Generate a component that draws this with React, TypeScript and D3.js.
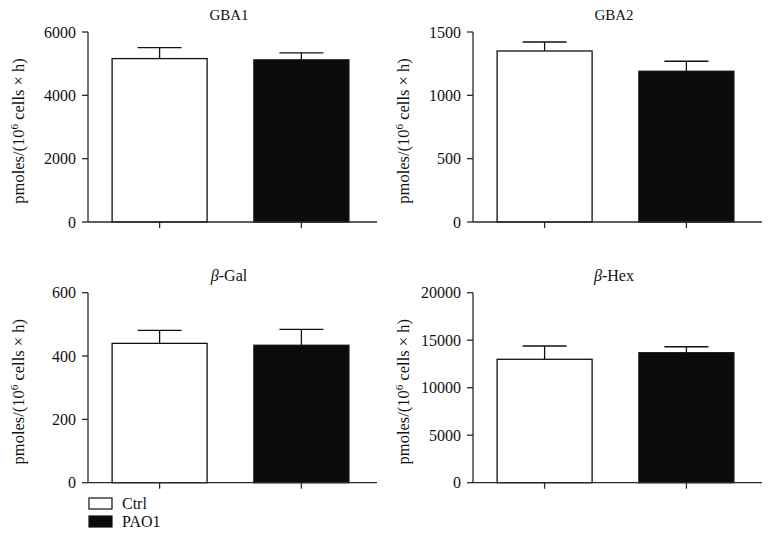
import * as d3 from "d3";

const groups = ["Ctrl", "PAO1"];
const titles = ["GBA1", "GBA2", "β-Gal", "β-Hex"];
const gba1Means = [5160, 5120];
const gba1Errs = [345, 220];
const gba2Means = [1350, 1190];
const gba2Errs = [71, 79];
const galMeans = [440, 434];
const galErrs = [41, 50];
const hexMeans = [12990, 13680];
const hexErrs = [1400, 630];
const yMaxes = [6000, 1500, 600, 20000];
const tickSteps = [2000, 500, 200, 5000];
const fills = ["#ffffff", "#0b0b0b"];

const allMeans = [gba1Means, gba2Means, galMeans, hexMeans];
const allErrs = [gba1Errs, gba2Errs, galErrs, hexErrs];

const font = "'Liberation Serif', 'Times New Roman', serif";
const axisColor = "#2a2a2a";

function Title({ text, x, y }: { text: string; x: number; y: number }) {
  if (text.startsWith("β")) {
    return (
      <text x={x} y={y} textAnchor="middle" fontSize={16} fill="#111">
        <tspan fontStyle="italic">β</tspan>
        <tspan>{text.slice(1)}</tspan>
      </text>
    );
  }
  return (
    <text x={x} y={y} textAnchor="middle" fontSize={15} fill="#111">
      {text}
    </text>
  );
}

function Panel({ idx, x0, yTop, yBottom }: { idx: number; x0: number; yTop: number; yBottom: number }) {
  const w = 289;
  const means = allMeans[idx];
  const errs = allErrs[idx];
  const yMax = yMaxes[idx];

  const y = d3.scaleLinear().domain([0, yMax]).range([yBottom, yTop]);
  const x = d3
    .scaleBand()
    .domain(groups)
    .range([x0, x0 + 285])
    .paddingInner(0.33)
    .paddingOuter(0.17);

  const ticks = d3.range(0, yMax + 1, tickSteps[idx]);
  const midY = (yTop + yBottom) / 2;

  return (
    <g>
      <Title text={titles[idx]} x={x0 + 141} y={yTop - 12} />

      {/* bars */}
      {groups.map((g, i) => {
        const cx = x(g)! + x.bandwidth() / 2;
        return (
          <g key={g}>
            <line x1={cx} x2={cx} y1={y(means[i])} y2={y(means[i] + errs[i])} stroke="#111" strokeWidth={1.3} />
            <line x1={cx - 22} x2={cx + 22} y1={y(means[i] + errs[i])} y2={y(means[i] + errs[i])} stroke="#111" strokeWidth={1.3} />
            <rect
              x={x(g)}
              y={y(means[i])}
              width={x.bandwidth()}
              height={yBottom - y(means[i])}
              fill={fills[i]}
              stroke="#111"
              strokeWidth={1.3}
            />
          </g>
        );
      })}

      {/* y axis */}
      <line x1={x0} x2={x0} y1={yTop} y2={yBottom} stroke={axisColor} strokeWidth={1.3} />
      {ticks.map((t) => (
        <g key={t}>
          <line x1={x0 - 6} x2={x0} y1={y(t)} y2={y(t)} stroke={axisColor} strokeWidth={1.3} />
          <text x={x0 - 12} y={y(t)} dy="0.35em" textAnchor="end" fontSize={16} fill="#111">
            {t}
          </text>
        </g>
      ))}

      {/* x axis */}
      <line x1={x0} x2={x0 + w} y1={yBottom} y2={yBottom} stroke={axisColor} strokeWidth={1.3} />
      {groups.map((g) => {
        const cx = x(g)! + x.bandwidth() / 2;
        return <line key={g} x1={cx} x2={cx} y1={yBottom} y2={yBottom + 6} stroke={axisColor} strokeWidth={1.3} />;
      })}

      {/* y axis label */}
      <text
        transform={`translate(${x0 - 64},${midY + 4}) rotate(-90)`}
        textAnchor="middle"
        fontSize={16.5}
        fill="#111"
      >
        pmoles/(10
        <tspan fontSize={11} dy={-6}>6</tspan>
        <tspan dy={6}> cells × h)</tspan>
      </text>
    </g>
  );
}

export default function App() {
  const width = 769;
  const height = 541;
  return (
    <svg
      width={width}
      height={height}
      style={{ position: "absolute", left: 0, top: 0, background: "#fff", fontFamily: font }}
    >
      <Panel idx={0} x0={88} yTop={32} yBottom={222} />
      <Panel idx={1} x0={473} yTop={32} yBottom={222} />
      <Panel idx={2} x0={88} yTop={292.7} yBottom={482.7} />
      <Panel idx={3} x0={473} yTop={292.7} yBottom={482.7} />

      {/* legend */}
      {groups.map((g, i) => (
        <g key={g} transform={`translate(89,${498 + i * 18})`}>
          <rect x={0} y={0} width={23} height={11} fill={fills[i]} stroke="#111" strokeWidth={1.2} />
          <text x={33} y={11} fontSize={16} fill="#111">
            {g}
          </text>
        </g>
      ))}
    </svg>
  );
}
